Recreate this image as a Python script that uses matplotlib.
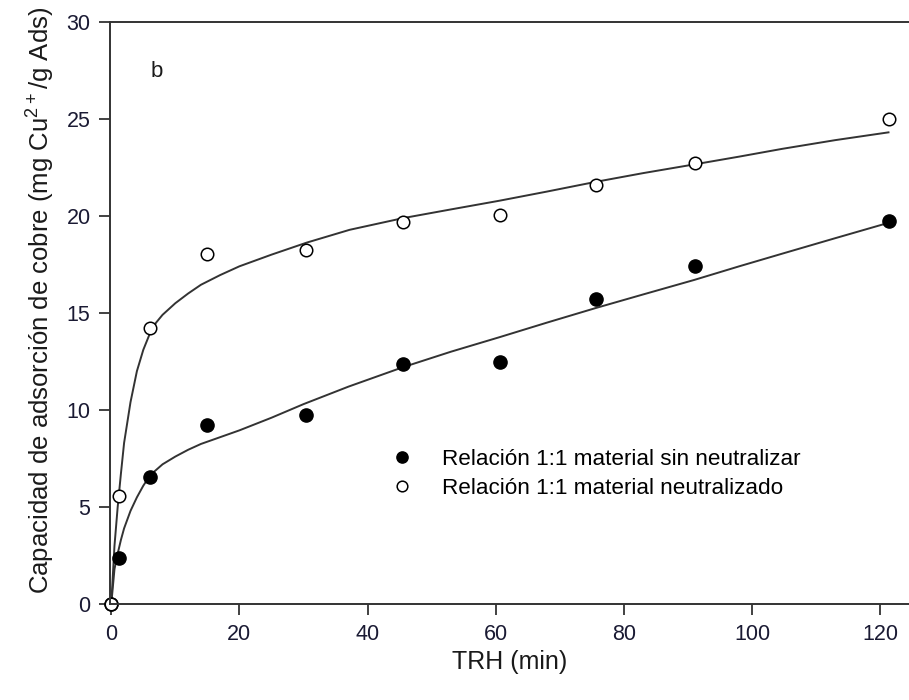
import matplotlib
matplotlib.use("Agg")
import matplotlib.pyplot as plt

plt.rcParams['font.family'] = ['Liberation Sans', 'DejaVu Sans']
plt.rcParams['mathtext.fontset'] = 'custom'
plt.rcParams['mathtext.rm'] = 'Liberation Sans'

# measured points
t = [0, 1.25, 6.1, 14.9, 30.4, 45.5, 60.7, 75.6, 91.1, 121.4]
sin_neutralizar = [0, 2.36, 6.53, 9.25, 9.73, 12.39, 12.47, 15.71, 17.43, 19.71]
neutralizado = [0, 5.55, 14.2, 18.05, 18.24, 19.7, 20.05, 21.57, 22.72, 25.0]

# fitted curves
t_fit_sin = [0, 0.5, 1, 1.5, 2, 3, 4, 5, 6.1, 8, 10, 12, 14, 17, 20, 25, 30,
             37, 45.5, 53, 60.6, 68, 75.6, 83, 91, 98, 104.7, 113, 121.3]
fit_sin = [0, 1.8, 2.6, 3.3, 3.9, 4.8, 5.5, 6.1, 6.65, 7.2, 7.6, 7.95, 8.25, 8.6,
           8.95, 9.6, 10.3, 11.2, 12.2, 13.0, 13.75, 14.5, 15.25, 15.95, 16.7,
           17.4, 18.05, 18.85, 19.64]
t_fit_neu = [0, 0.5, 1, 1.5, 2, 3, 4, 5, 6.1, 7, 8, 10, 12, 14, 17, 20, 25, 30.5,
             37.2, 45.5, 53, 60.6, 68, 75.6, 83, 91, 98, 104.7, 113, 121.3]
fit_neu = [0, 3.0, 5.0, 6.7, 8.3, 10.4, 12.0, 13.1, 14.0, 14.5, 14.9, 15.5, 16.0,
           16.45, 16.95, 17.4, 18.0, 18.62, 19.28, 19.88, 20.33, 20.78, 21.25,
           21.75, 22.2, 22.65, 23.05, 23.45, 23.9, 24.3]

fig = plt.figure(figsize=(9.09, 7.0), dpi=100)
ax = fig.add_axes([0.121, 0.137, 0.879, 0.832])

ax.plot(t_fit_sin, fit_sin, color='#333333', lw=1.4)
ax.plot(t_fit_neu, fit_neu, color='#333333', lw=1.4)
ax.plot(t, sin_neutralizar, 'o', color='black', ms=9.5,
        label='Relación 1:1 material sin neutralizar', clip_on=False)
ax.plot(t, neutralizado, 'o', mfc='white', mec='black', mew=1.1, ms=9,
        label='Relación 1:1 material neutralizado', clip_on=False)

ax.set_xlim(-0.2, 124.5)
ax.set_ylim(0, 30)
ax.set_xticks([0, 20, 40, 60, 80, 100, 120])
ax.set_yticks([0, 5, 10, 15, 20, 25, 30])
ax.spines['right'].set_visible(False)
for s in ['left', 'bottom', 'top']:
    ax.spines[s].set_linewidth(1.4)
    ax.spines[s].set_color('#333333')
ax.tick_params(direction='out', length=8, width=1.3, color='#333333',
               labelsize=15.5, labelcolor='#1a1a33', pad=6)

ax.set_xlabel('TRH (min)', fontsize=18, color='#1a1a1a', labelpad=4)
ax.set_ylabel(r'Capacidad de adsorción de cobre (mg Cu$^{\mathregular{2+}}$/g Ads)',
              fontsize=18.5, color='#1a1a1a')
ax.yaxis.set_label_coords(-0.067, 0.522)

ax.text(0.051, 0.905, 'b', transform=ax.transAxes, fontsize=16, color='#1a1a1a')

ax.legend(loc='upper left', bbox_to_anchor=(0.34, 0.282), frameon=False,
          fontsize=16.2, handletextpad=1.3, labelspacing=0.35, borderaxespad=0,
          handlelength=1.0, markerscale=0.85)

fig.savefig('out.png', dpi=100)
